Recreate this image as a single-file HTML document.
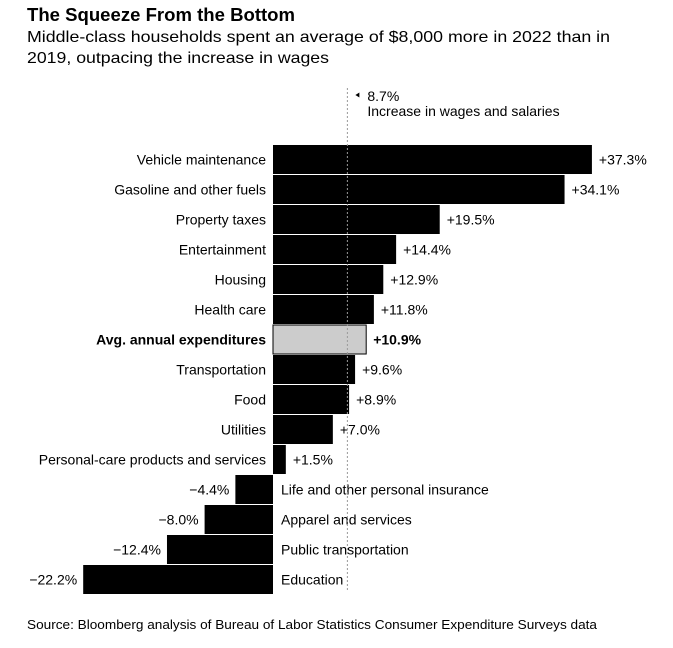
<!DOCTYPE html>
<html><head><meta charset="utf-8"><style>
body{margin:0;background:#fff;}
svg text{font-family:"Liberation Sans",sans-serif;}
</style></head><body>
<svg id="chart" width="673" height="643" xmlns="http://www.w3.org/2000/svg">
<text x="27" y="21" font-size="18" font-weight="bold" textLength="268" lengthAdjust="spacingAndGlyphs">The Squeeze From the Bottom</text>
<text x="27" y="42" font-size="16" textLength="583" lengthAdjust="spacingAndGlyphs">Middle-class households spent an average of $8,000 more in 2022 than in</text>
<text x="27" y="63" font-size="16" textLength="302" lengthAdjust="spacingAndGlyphs">2019, outpacing the increase in wages</text>
<g id="bars"></g>
<g id="ref"></g>
<text x="27" y="629" font-size="13" textLength="570" lengthAdjust="spacingAndGlyphs">Source: Bloomberg analysis of Bureau of Labor Statistics Consumer Expenditure Surveys data</text>
</svg>
<script>
const categories=["Vehicle maintenance","Gasoline and other fuels","Property taxes","Entertainment","Housing","Health care","Avg. annual expenditures","Transportation","Food","Utilities","Personal-care products and services","Life and other personal insurance","Apparel and services","Public transportation","Education"];
const values=[37.3,34.1,19.5,14.4,12.9,11.8,10.9,9.6,8.9,7.0,1.5,-4.4,-8.0,-12.4,-22.2];
const highlight=["Avg. annual expenditures"];
const wageIncrease=8.7;
const NS="http://www.w3.org/2000/svg";
const x0=273, pxPer=8.55, rowTop=145, pitch=30, barH=29;
const xs=v=>x0+v*pxPer;
const ys=i=>rowTop+i*pitch;
const g=document.getElementById('bars');
function mk(tag,attrs,parent){const e=document.createElementNS(NS,tag);for(const k in attrs)e.setAttribute(k,attrs[k]);parent.appendChild(e);return e;}
categories.forEach((c,i)=>{
  const v=values[i];const hl=highlight.includes(c);
  const xa=Math.min(xs(0),xs(v)), w=Math.abs(xs(v)-xs(0));
  const r=mk('rect',{x:xa,y:ys(i),width:w,height:barH,fill:hl?'#cccccc':'#000',stroke:hl?'#000':'none','stroke-width':hl?1:0},g);
  
  
  const cy=ys(i)+barH/2+5;
  const lab=mk('text',{y:cy,'font-size':14,'font-weight':hl?'bold':'normal'},g);
  lab.textContent=c;
  
  
  const val=mk('text',{y:cy,'font-size':14,'font-weight':hl?'bold':'normal'},g);
  val.textContent=(v>0?'+':'\u2212')+Math.abs(v).toFixed(1)+'%';
  
  
  if(v>=0){lab.setAttribute('x',x0-7);lab.setAttribute('text-anchor','end');val.setAttribute('x',xs(v)+7);}
  else{lab.setAttribute('x',x0+8);val.setAttribute('x',xs(v)-6);val.setAttribute('text-anchor','end');}
});
const rg=document.getElementById('ref');
const lx=xs(wageIncrease);
const ln=mk('line',{x1:lx,x2:lx,y1:88,y2:592,stroke:'#999','stroke-width':1,'stroke-dasharray':'2,2'},rg);


const ar=mk('path',{d:`M${lx+8} 95 L${lx+12} 92.5 L${lx+12} 97.5Z`,fill:'#000'},rg);


const t1=mk('text',{x:lx+20,y:101,'font-size':14},rg);t1.textContent=wageIncrease+'%';


const t2=mk('text',{x:lx+20,y:116,'font-size':14},rg);t2.textContent='Increase in wages and salaries';


</script>
</body></html>
